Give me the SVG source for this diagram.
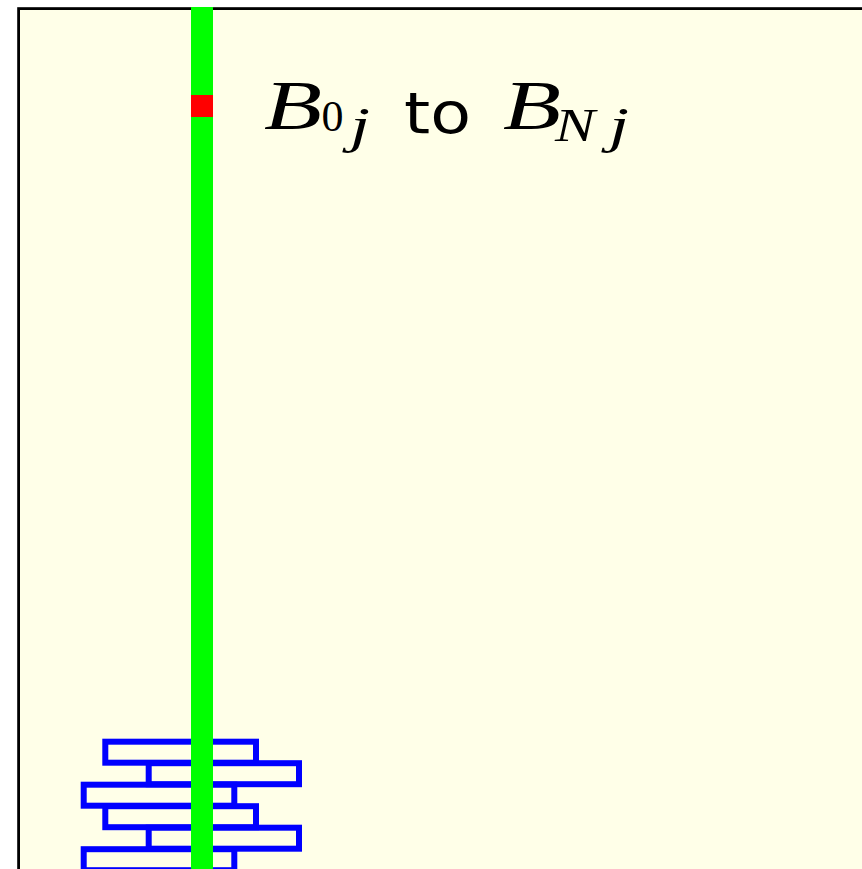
<svg xmlns="http://www.w3.org/2000/svg" width="862" height="869" viewBox="0 0 862 869">
  <style>
    .brick { fill: none; stroke: #0000ff; stroke-width: 6; }
    .mi { font-family: "Liberation Serif", "DejaVu Serif", serif; font-style: italic; fill: #000; }
    .mr { font-family: "Liberation Serif", "DejaVu Serif", serif; fill: #000; }
    .tx { font-family: "DejaVu Sans", "Liberation Sans", sans-serif; fill: #000; }
  </style>
  <rect x="0" y="0" width="862" height="869" fill="#ffffff"/>
  <g id="frame">
    <rect x="18.6" y="8.6" width="900" height="900" fill="#ffffe8" stroke="#000000" stroke-width="2.8"/>
  </g>
  <g id="bricks">
    <rect class="brick" x="105.3" y="741.7" width="150.7" height="21"/>
    <rect class="brick" x="148.7" y="763.2" width="150.3" height="21"/>
    <rect class="brick" x="83.7" y="784.7" width="150.6" height="21"/>
    <rect class="brick" x="105.3" y="806.2" width="150.7" height="21"/>
    <rect class="brick" x="148.7" y="827.7" width="150.3" height="21"/>
    <rect class="brick" x="83.7" y="849.2" width="150.6" height="21"/>
  </g>
  <g id="pole">
    <rect x="191" y="7" width="22" height="862" fill="#00ff00"/>
    <rect x="191" y="95" width="22" height="22" fill="#ff0000"/>
  </g>
  <g id="label">
    <text class="mi" x="264" y="129.3" font-size="70" textLength="58" lengthAdjust="spacingAndGlyphs">B</text>
    <text class="mr" x="321.5" y="130.7" font-size="44" textLength="22" lengthAdjust="spacingAndGlyphs">0</text>
    <text class="mi" x="350" y="142" font-size="50" textLength="20" lengthAdjust="spacingAndGlyphs">j</text>
    <text class="tx" x="404" y="132.7" font-size="57" textLength="67" lengthAdjust="spacingAndGlyphs">to</text>
    <text class="mi" x="503" y="129.3" font-size="70" textLength="58" lengthAdjust="spacingAndGlyphs">B</text>
    <text class="mi" x="555" y="140.7" font-size="46" textLength="40" lengthAdjust="spacingAndGlyphs">N</text>
    <text class="mi" x="609" y="142" font-size="50" textLength="20" lengthAdjust="spacingAndGlyphs">j</text>
  </g>
</svg>
